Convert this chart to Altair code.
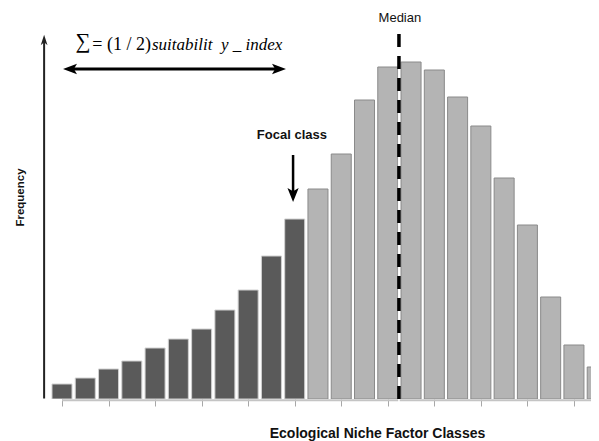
import altair as alt
import pandas as pd

# ---- data ----
classes = list(range(1, 25))
freq = [15, 21, 30, 38, 51, 60, 70, 89, 109, 143, 180, 210,
        245, 299, 332, 337, 329, 302, 273, 221, 174, 102, 54, 32]
focal_class = 11
median_class = 15.48

x_domain = [0.2265, 23.733]
y_domain = [0, 369]

bars = pd.DataFrame({
    "cls": classes,
    "freq": freq,
    "lo": [c - 0.43 for c in classes],
    "hi": [c + 0.43 for c in classes],
    "group": ["below" if c <= focal_class else "above" for c in classes],
})

xs = alt.Scale(domain=x_domain, nice=False, zero=False)
ys = alt.Scale(domain=y_domain, nice=False, zero=False)

FONT = "Liberation Sans"
SERIF = "Liberation Serif"

x_axis = alt.Axis(values=classes, domain=False, labels=False, grid=False,
                  ticks=True, tickColor="#a8a8a8", tickSize=7, tickWidth=1,
                  title="Ecological Niche Factor Classes",
                  titleFont=FONT, titleFontSize=14, titleFontWeight="bold",
                  titleColor="#111111", titleX=333, titleY=38,
                  titleAlign="center", titleBaseline="alphabetic")
y_axis = alt.Axis(domain=False, labels=False, ticks=False, grid=False,
                  title="Frequency", titleFont=FONT, titleFontSize=11.5,
                  titleFontWeight="bold", titleColor="#111111", titleAngle=270,
                  titleX=-24, titleY=167, titleAlign="center",
                  titleBaseline="middle")

base = alt.Chart(bars)

bar_layer = base.mark_bar(clip=True, strokeWidth=1).encode(
    x=alt.X("lo:Q", scale=xs, axis=x_axis),
    x2="hi:Q",
    y=alt.Y("freq:Q", scale=ys, axis=y_axis),
    y2=alt.datum(0),
    fill=alt.Fill("group:N", scale=alt.Scale(domain=["below", "above"],
                                             range=["#5a5a5a", "#b4b4b4"]),
                  legend=None),
    stroke=alt.Stroke("group:N", scale=alt.Scale(domain=["below", "above"],
                                                 range=["#d0d0d0", "#8a8a8a"]),
                      legend=None),
)

# x axis base line (light grey)
xline = alt.Chart(pd.DataFrame({"a": [1.0], "b": [x_domain[1]], "y": [-1.2]})).mark_rule(
    color="#c4c4c4", strokeWidth=2).encode(
    x=alt.X("a:Q", scale=xs), x2="b:Q", y=alt.Y("y:Q", scale=ys))

# y axis line with arrow
yline = alt.Chart(pd.DataFrame({"x": [x_domain[0] + 0.005], "y1": [0.5], "y2": [358]})).mark_rule(
    color="#222222", strokeWidth=2).encode(
    x=alt.X("x:Q", scale=xs), y=alt.Y("y1:Q", scale=ys), y2="y2:Q")
yhead = alt.Chart(pd.DataFrame({"x": [x_domain[0] + 0.005], "y": [359]})).mark_point(
    shape="M0,-1 L-0.65,1 L0,0.45 L0.65,1 Z", filled=True, color="#222222",
    size=110, opacity=1).encode(x=alt.X("x:Q", scale=xs), y=alt.Y("y:Q", scale=ys))

# median dashed line
med_df = pd.DataFrame({"x": [median_class], "top": [365], "bot": [-6]})
med_white = alt.Chart(med_df).mark_rule(color="white", strokeWidth=1.5).encode(
    x=alt.X("x:Q", scale=xs), y=alt.Y("top:Q", scale=ys), y2="bot:Q")
med_dash = alt.Chart(med_df).mark_rule(color="black", strokeWidth=3.5,
                                       strokeDash=[13, 9]).encode(
    x=alt.X("x:Q", scale=xs), y=alt.Y("top:Q", scale=ys), y2="bot:Q")
med_text = alt.Chart(pd.DataFrame({"x": [15.52], "y": [381], "t": ["Median"]})).mark_text(
    font=FONT, fontSize=13, color="#111111", align="center", baseline="middle").encode(
    x=alt.X("x:Q", scale=xs), y=alt.Y("y:Q", scale=ys), text="t:N")

# focal class annotation
focal_text = alt.Chart(pd.DataFrame({"x": [10.88], "y": [264], "t": ["Focal class"]})).mark_text(
    font=FONT, fontSize=13, fontWeight="bold", color="#111111", align="center",
    baseline="middle").encode(
    x=alt.X("x:Q", scale=xs), y=alt.Y("y:Q", scale=ys), text="t:N")
focal_line = alt.Chart(pd.DataFrame({"x": [10.93], "a": [244], "b": [206]})).mark_rule(
    color="black", strokeWidth=2.5).encode(
    x=alt.X("x:Q", scale=xs), y=alt.Y("a:Q", scale=ys), y2="b:Q")
focal_head = alt.Chart(pd.DataFrame({"x": [10.93], "y": [204]})).mark_point(
    shape="M0,1 L-0.8,-1 L0,-0.55 L0.8,-1 Z", filled=True, color="black",
    size=196, opacity=1).encode(x=alt.X("x:Q", scale=xs), y=alt.Y("y:Q", scale=ys))

# double arrow (sum range)
dbl_line = alt.Chart(pd.DataFrame({"a": [1.30], "b": [10.37], "y": [330]})).mark_rule(
    color="black", strokeWidth=3).encode(
    x=alt.X("a:Q", scale=xs), x2="b:Q", y=alt.Y("y:Q", scale=ys))
dbl_heads = alt.Chart(pd.DataFrame({"x": [1.344], "y": [330]})).mark_point(
    shape="M-1,0 L1,-0.75 L0.55,0 L1,0.75 Z", filled=True, color="black",
    size=196, opacity=1).encode(x=alt.X("x:Q", scale=xs), y=alt.Y("y:Q", scale=ys))
dbl_heads2 = alt.Chart(pd.DataFrame({"x": [10.325], "y": [330]})).mark_point(
    shape="M1,0 L-1,-0.75 L-0.55,0 L-1,0.75 Z", filled=True, color="black",
    size=196, opacity=1).encode(x=alt.X("x:Q", scale=xs), y=alt.Y("y:Q", scale=ys))

# formula text
sigma = alt.Chart(pd.DataFrame({"x": [1.902], "y": [357], "t": ["∑"]})).mark_text(
    font=SERIF, fontSize=21, color="black", align="center", baseline="middle").encode(
    x=alt.X("x:Q", scale=xs), y=alt.Y("y:Q", scale=ys), text="t:N")
formula1 = alt.Chart(pd.DataFrame({"x": [2.30], "y": [349], "t": ["= (1 / 2)"]})).mark_text(
    font=SERIF, fontSize=18, color="black", align="left", baseline="alphabetic").encode(
    x=alt.X("x:Q", scale=xs), y=alt.Y("y:Q", scale=ys), text="t:N")
formula2 = alt.Chart(pd.DataFrame({"x": [4.868], "y": [349], "t": ["suitabilit\u2002y _ index"]})).mark_text(
    font=SERIF, fontSize=17, fontStyle="italic", color="black", align="left",
    baseline="alphabetic").encode(
    x=alt.X("x:Q", scale=xs), y=alt.Y("y:Q", scale=ys), text="t:N")

chart = alt.layer(
    bar_layer, xline, med_white, med_dash, yline, yhead, med_text,
    focal_text, focal_line, focal_head, dbl_line, dbl_heads, dbl_heads2,
    sigma, formula1, formula2,
).properties(
    width=547, height=369,
    autosize=alt.AutoSizeParams(type="none"),
    padding={"left": 36, "top": 22, "right": 0, "bottom": 42},
    background="white",
).configure_view(stroke=None)

chart.save("out.html", embed_options={"renderer": "svg", "actions": False})
